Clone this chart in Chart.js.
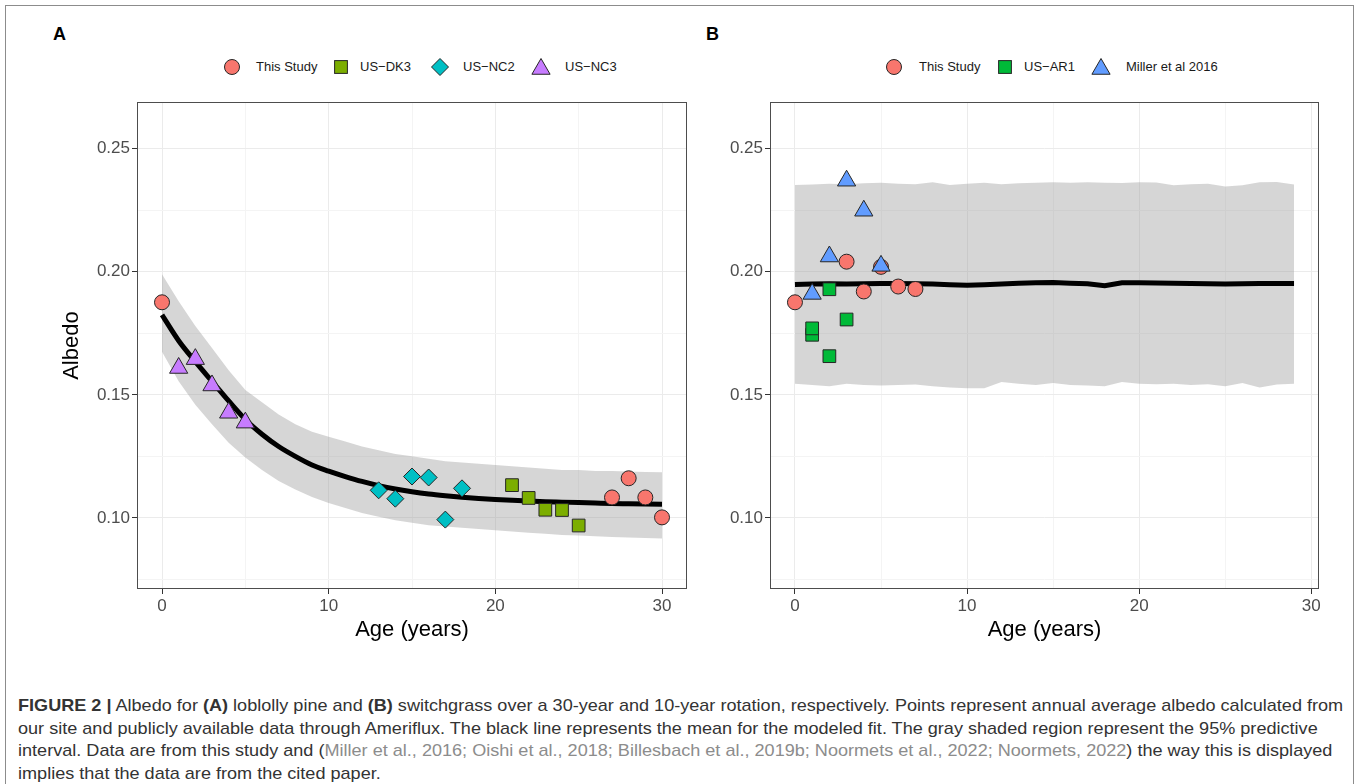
<!DOCTYPE html>
<html>
<head>
<meta charset="utf-8">
<script src="https://cdn.jsdelivr.net/npm/chart.js@4.4.1/dist/chart.umd.min.js"></script>
<style>
  body { margin: 0; background: #fff; width: 1360px; height: 784px; overflow: hidden; position: relative;
         font-family: 'Liberation Sans', Arial, sans-serif; }
  #frame { position: absolute; left: 5px; top: 5px; width: 1347px; height: 800px; border: 1.5px solid #8c8c8c; pointer-events: none; }
  canvas { position: absolute; }
  .tag { position: absolute; font-weight: bold; font-size: 18px; line-height: 18px; }
  .leg { position: absolute; font-size: 13px; line-height: 16px; color: #1a1a1a; white-space: nowrap; }
  .mk { position: absolute; overflow: visible; }
  #caption { position: absolute; left: 18px; top: 695px; font-family: 'Liberation Sans', Arial, sans-serif;
             font-size: 17px; color: #333; line-height: 22.5px; }
  .ln { white-space: nowrap; transform-origin: left center; }
  .cite { color: #8c8c8c; }
</style>
</head>
<body>
<div class="tag" style="left:53px; top:25px;">A</div>
<div class="tag" style="left:706px; top:25px;">B</div>
<div id="legendA"></div>
<div id="legendB"></div>
<canvas id="chartA" width="700" height="580" style="left:0px; top:90px;"></canvas>
<canvas id="chartB" width="640" height="580" style="left:700px; top:90px;"></canvas>
<div id="caption">
  <div class="ln"><b>FIGURE 2 |</b> Albedo for <b>(A)</b> loblolly pine and <b>(B)</b> switchgrass over a 30-year and 10-year rotation, respectively. Points represent annual average albedo calculated from</div>
  <div class="ln">our site and publicly available data through Ameriflux. The black line represents the mean for the modeled fit. The gray shaded region represent the 95% predictive</div>
  <div class="ln">interval. Data are from this study and (<span class="cite">Miller et al., 2016; Oishi et al., 2018; Billesbach et al., 2019b; Noormets et al., 2022; Noormets, 2022</span>) the way this is displayed</div>
  <div class="ln">implies that the data are from the cited paper.</div>
</div>
<div id="frame"></div>

<script>
// ---- panel A: loblolly pine ----
const ageA = [0, 1, 2, 3, 4, 5, 6, 7, 8, 9, 10, 11, 12, 13, 14, 15, 16, 17, 18, 19, 20, 21, 22, 23, 24, 25, 26, 27, 28, 29, 30];
const fitA = [0.1825, 0.172, 0.1635, 0.1555, 0.1475, 0.140, 0.134, 0.129, 0.125, 0.1215, 0.119, 0.1168, 0.1148, 0.1131, 0.1117, 0.1106, 0.1097, 0.109, 0.1084, 0.1079, 0.1075, 0.1072, 0.1069, 0.1066, 0.1064, 0.1062, 0.106, 0.1058, 0.1057, 0.1056, 0.1055];
const lowA = [0.1675, 0.1555, 0.146, 0.138, 0.1305, 0.1245, 0.1195, 0.115, 0.1115, 0.1085, 0.106, 0.104, 0.102, 0.1005, 0.099, 0.098, 0.097, 0.0965, 0.096, 0.0955, 0.095, 0.0945, 0.094, 0.0935, 0.093, 0.0928, 0.0925, 0.0922, 0.092, 0.0918, 0.0916];
const highA = [0.199, 0.188, 0.178, 0.169, 0.160, 0.152, 0.147, 0.142, 0.138, 0.135, 0.133, 0.131, 0.129, 0.1275, 0.126, 0.125, 0.124, 0.123, 0.1225, 0.122, 0.1215, 0.121, 0.1205, 0.120, 0.1195, 0.1195, 0.119, 0.119, 0.1188, 0.1186, 0.1185];

const studyAgeA = [0, 27, 28, 29, 30];
const studyA = [0.1876, 0.1083, 0.1161, 0.1083, 0.1002];
const dk3Age = [21, 22, 23, 24, 25];
const dk3 = [0.1133, 0.1081, 0.1033, 0.1032, 0.0969];
const nc2Age = [13, 14, 15, 16, 17, 18];
const nc2 = [0.1112, 0.1078, 0.1168, 0.1164, 0.0993, 0.112];
const nc3Age = [1, 2, 3, 4, 5];
const nc3 = [0.1609, 0.1645, 0.1538, 0.1427, 0.1387];

// ---- panel B: switchgrass ----
const ageB = [0, 1, 2, 3, 4, 5, 6, 7, 8, 9, 10, 11, 12, 13, 14, 15, 16, 17, 18, 19, 20, 21, 22, 23, 24, 25, 26, 27, 28, 29];
const fitB = [0.1948, 0.195, 0.1951, 0.195, 0.1951, 0.1952, 0.1952, 0.1951, 0.195, 0.1947, 0.1945, 0.1947, 0.195, 0.1953, 0.1955, 0.1956, 0.1953, 0.1951, 0.1943, 0.1955, 0.1955, 0.1954, 0.1953, 0.1952, 0.1951, 0.195, 0.1951, 0.1952, 0.1952, 0.1952];
const lowB = [0.1545, 0.154, 0.1535, 0.1545, 0.154, 0.1538, 0.154, 0.1542, 0.1535, 0.153, 0.1527, 0.1527, 0.1552, 0.1545, 0.154, 0.1548, 0.154, 0.1538, 0.1535, 0.1552, 0.1545, 0.1543, 0.1545, 0.154, 0.1543, 0.1535, 0.1548, 0.153, 0.1542, 0.1545];
const highB = [0.2353, 0.2355, 0.2358, 0.2356, 0.236, 0.2362, 0.2358, 0.2356, 0.2364, 0.2353, 0.2358, 0.2362, 0.2356, 0.236, 0.2362, 0.2364, 0.2362, 0.2364, 0.2362, 0.2361, 0.2364, 0.2363, 0.2352, 0.2356, 0.2358, 0.2346, 0.2352, 0.2364, 0.2365, 0.2355];

const studyAgeB = [0, 3, 4, 5, 6, 7];
const studyB = [0.1876, 0.2041, 0.192, 0.202, 0.194, 0.193];
const ar1Age = [1, 1, 2, 2, 3];
const ar1 = [0.1744, 0.177, 0.1929, 0.1657, 0.1806];
const millerAge = [1, 2, 3, 4, 5];
const miller = [0.191, 0.2062, 0.237, 0.2248, 0.2024];

const xTicks = [0, 5, 10, 15, 20, 25, 30];
const yTicks = [0.075, 0.1, 0.125, 0.15, 0.175, 0.2, 0.225, 0.25];

const RED = '#F8766D', OLIVE = '#7CAE00', CYAN = '#00BFC4', PURPLE = '#C77CFF', GREEN = '#00BA38', BLUE = '#619CFF';

Chart.defaults.font.family = "'Liberation Sans', Arial, sans-serif";

function pts(xs, ys) {
    return xs.map((x, i) => ({ x: x, y: ys[i] }));
}

function isMajor(v, step) {
    return Math.abs(v / step - Math.round(v / step)) < 1e-6;
}

function ribbon(lo, hi, xs) {
    return [
        { type: 'line', data: pts(xs, lo), borderWidth: 0, pointRadius: 0, fill: false, order: 10 },
        { type: 'line', data: pts(xs, hi), borderWidth: 0, pointRadius: 0, fill: '-1', backgroundColor: 'rgba(153,153,153,0.4)', order: 9 }
    ];
}

function points(xs, ys, style, color, radius, order) {
    return {
        data: pts(xs, ys), pointStyle: style, pointRadius: radius, pointHoverRadius: radius,
        backgroundColor: color, borderColor: '#262626', borderWidth: 1, order: order
    };
}

const frame = {
    id: 'frame',
    afterDatasetsDraw(chart) {
        const a = chart.chartArea, ctx = chart.ctx;
        ctx.save();
        ctx.strokeStyle = '#4d4d4d';
        ctx.lineWidth = 1;
        ctx.strokeRect(Math.round(a.left) + 0.5, Math.round(a.top) + 0.5, Math.round(a.right - a.left) - 1, Math.round(a.bottom - a.top) - 1);
        ctx.restore();
    }
};

function panel(id, o) {
    return new Chart(document.getElementById(id), {
        type: 'scatter',
        data: { datasets: o.datasets },
        options: {
            responsive: false,
            animation: false,
            layout: { padding: o.padding },
            plugins: { legend: { display: false }, tooltip: { enabled: false } },
            scales: {
                x: {
                    type: 'linear', min: o.xMin, max: o.xMax,
                    afterBuildTicks: s => { s.ticks = xTicks.map(v => ({ value: v })); },
                    afterFit: s => { s.height = 81; },
                    border: { display: false },
                    grid: {
                        color: c => isMajor(c.tick.value, 10) ? '#EBEBEB' : '#F4F4F4',
                        tickLength: 5,
                        tickColor: c => isMajor(c.tick.value, 10) ? '#333333' : 'rgba(0,0,0,0)'
                    },
                    ticks: {
                        autoSkip: false, maxRotation: 0, padding: 2, color: '#4D4D4D', font: { size: 17 },
                        callback: v => isMajor(v, 10) ? String(v) : ''
                    },
                    title: { display: true, text: 'Age (years)', color: '#000', font: { size: 22 }, padding: { top: 0, bottom: 27 } }
                },
                y: {
                    type: 'linear', min: 0.0711, max: 0.2689,
                    afterBuildTicks: s => { s.ticks = yTicks.map(v => ({ value: v })); },
                    afterFit: s => { s.width = o.yWidth; },
                    border: { display: false },
                    grid: {
                        color: c => isMajor(c.tick.value, 0.05) ? '#EBEBEB' : '#F4F4F4',
                        tickLength: 5,
                        tickColor: c => isMajor(c.tick.value, 0.05) ? '#333333' : 'rgba(0,0,0,0)'
                    },
                    ticks: {
                        autoSkip: false, padding: 2, color: '#4D4D4D', font: { size: 17 },
                        callback: v => isMajor(v, 0.05) ? v.toFixed(2) : ''
                    },
                    title: { display: o.yTitle, text: 'Albedo', color: '#000', font: { size: 22 }, padding: { top: 59, bottom: 0 } }
                }
            }
        },
        plugins: [frame]
    });
}

panel('chartA', {
    xMin: -1.5, xMax: 31.5, yWidth: 137, yTitle: true,
    padding: { left: 0, top: 8, right: 13, bottom: 0 },
    datasets: [
        ...ribbon(lowA, highA, ageA),
        { type: 'line', data: pts(ageA, fitA), borderColor: '#000', borderWidth: 5, borderCapStyle: 'butt',
          pointRadius: 0, fill: false, cubicInterpolationMode: 'monotone', order: 8 },
        points(studyAgeA, studyA, 'circle', RED, 7.5, 4),
        points(dk3Age, dk3, 'rect', OLIVE, 9, 3),
        points(nc2Age, nc2, 'rectRot', CYAN, 8.5, 2),
        points(nc3Age, nc3, 'triangle', PURPLE, 10.5, 1)
    ]
});

panel('chartB', {
    xMin: -1.45, xMax: 30.45, yWidth: 70, yTitle: false,
    padding: { left: 0, top: 8, right: 21, bottom: 0 },
    datasets: [
        ...ribbon(lowB, highB, ageB),
        { type: 'line', data: pts(ageB, fitB), borderColor: '#000', borderWidth: 5, borderCapStyle: 'butt',
          pointRadius: 0, fill: false, tension: 0, order: 8 },
        points(studyAgeB, studyB, 'circle', RED, 7.5, 4),
        points(ar1Age, ar1, 'rect', GREEN, 9, 3),
        points(millerAge, miller, 'triangle', BLUE, 10.5, 1)
    ]
});

// legends (ggplot style, above each panel)
function marker(shape, color) {
    let s;
    if (shape === 'circle') s = '<circle cx="12" cy="12" r="7.5"/>';
    else if (shape === 'rect') s = '<rect x="5.6" y="5.6" width="12.8" height="12.8"/>';
    else if (shape === 'diamond') s = '<polygon points="12,3.5 20.5,12 12,20.5 3.5,12"/>';
    else s = '<polygon points="12,1.5 21.1,17.25 2.9,17.25"/>';
    return '<svg width="24" height="24" viewBox="0 0 24 24"><g fill="' + color + '" stroke="#262626" stroke-width="1">' + s + '</g></svg>';
}

function legend(id, items) {
    const el = document.getElementById(id);
    items.forEach(it => {
        el.insertAdjacentHTML('beforeend',
            '<div class="mk" style="left:' + (it.mx - 12) + 'px; top:' + (67 - 12 + (it.shape === 'triangle' ? 2 : 0)) + 'px;">' + marker(it.shape, it.color) + '</div>' +
            '<div class="leg" style="left:' + it.tx + 'px; top:59px;">' + it.label + '</div>');
    });
}

legend('legendA', [
    { shape: 'circle', color: RED, label: 'This Study', mx: 232, tx: 256 },
    { shape: 'rect', color: OLIVE, label: 'US\u2212DK3', mx: 341, tx: 360 },
    { shape: 'diamond', color: CYAN, label: 'US\u2212NC2', mx: 440, tx: 463 },
    { shape: 'triangle', color: PURPLE, label: 'US\u2212NC3', mx: 541, tx: 565 }
]);
legend('legendB', [
    { shape: 'circle', color: RED, label: 'This Study', mx: 894, tx: 919 },
    { shape: 'rect', color: GREEN, label: 'US\u2212AR1', mx: 1005, tx: 1024 },
    { shape: 'triangle', color: BLUE, label: 'Miller et al 2016', mx: 1101, tx: 1126 }
]);

// squeeze caption lines to the width used in the figure
const lines = document.querySelectorAll('#caption .ln');
const k = 1325 / lines[0].scrollWidth;
lines.forEach(l => { l.style.transform = 'scaleX(' + k + ')'; });
</script>
</body>
</html>
